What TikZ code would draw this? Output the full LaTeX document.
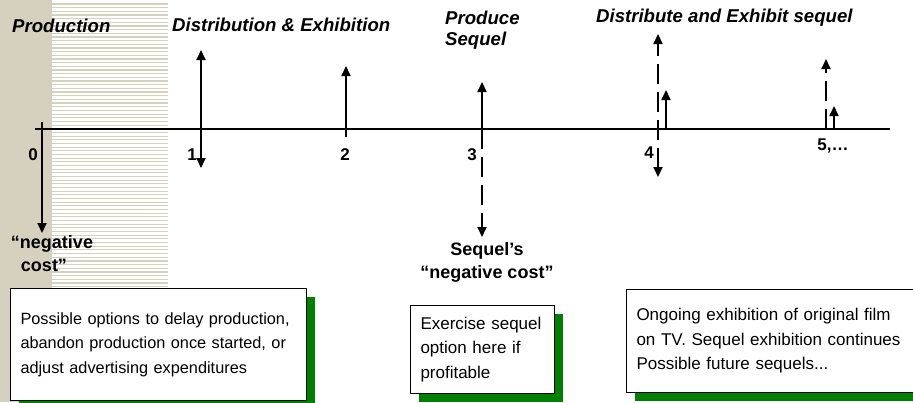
\documentclass[tikz,border=0pt]{standalone}
\usepackage{fontspec}
\setmainfont{Liberation Sans}
\usetikzlibrary{arrows.meta, positioning, shadows}
\definecolor{tBeige}{RGB}{213,209,190}
\definecolor{tGreen}{RGB}{0,128,0}
\tikzstyle{tPhase} = [font=\fontsize{18.6}{21}\selectfont\bfseries\itshape, inner sep=0pt, align=left]
\tikzstyle{tTime} = [font=\fontsize{17}{20}\selectfont\bfseries, inner sep=0pt]
\tikzstyle{tCost} = [font=\fontsize{18}{23}\selectfont\bfseries, inner sep=0pt, align=center]
\tikzstyle{tOption} = [rectangle, draw=black, fill=white, line width=1pt, inner xsep=10pt, inner ysep=0pt, align=left, font=\fontsize{17}{24.5}\selectfont, drop shadow={shadow xshift=8pt, shadow yshift=-8pt, fill=tGreen, opacity=1}]
\tikzstyle{tAxis} = [line width=2pt]
\tikzstyle{tFlow} = [line width=2pt, -{Triangle[width=9pt,length=10pt]}]
\tikzstyle{tFlowBoth} = [line width=2pt, {Triangle[width=9pt,length=10pt]}-{Triangle[width=9pt,length=10pt]}]
\tikzstyle{tDashed} = [dash pattern=on 20pt off 8pt]

\begin{document}
\begin{tikzpicture}[x=1pt, y=-1pt]
    \useasboundingbox (0,0) rectangle (913,402);
    % production period shading
    \fill[tBeige] (0,0) rectangle (52,402);
    \foreach \s in {4,7.67,...,287}
        \draw[tBeige, line width=1.2pt] (52,\s) -- (168,\s);

    % time line
    \coordinate (axisstart) at (35,129);
    \coordinate (axisend) at (890,129);
    \draw [tAxis] (axisstart) -- (axisend);

    \node (production) [tPhase, anchor=base west] at (12,32) {Production};
    \node (distexhibition) [tPhase, anchor=base west] at (172,31) {Distribution \& Exhibition};
    \node (producesequel) [tPhase, anchor=north west] at (445,11) {Produce\\Sequel};
    \node (distsequel) [tPhase, anchor=base west] at (596,22) {Distribute and Exhibit sequel};

    \node (zero) [tTime, anchor=base] at (33,160) {0};
    \node (one) [tTime, anchor=base] at (192,160) {1};
    \node (two) [tTime, anchor=base] at (345,160) {2};
    \node (three) [tTime, anchor=base] at (472,160) {3};
    \node (four) [tTime, anchor=base] at (649,158) {4};
    \node (five) [tTime, anchor=base] at (833,150) {5,\ldots};

    % cash flows
    \coordinate (c0a) at (42,122);   \coordinate (c0b) at (42,233);
    \coordinate (c1a) at (201,168);  \coordinate (c1b) at (201,50);
    \coordinate (c2a) at (346,137);  \coordinate (c2b) at (346,66);
    \coordinate (c3a) at (482,137);  \coordinate (c3b) at (482,82);
    \coordinate (c3c) at (482,129);  \coordinate (c3d) at (482,237);
    \coordinate (c4a) at (658,177);  \coordinate (c4b) at (658,34);
    \coordinate (c4c) at (666,129);  \coordinate (c4d) at (666,90);
    \coordinate (c5a) at (826,129);  \coordinate (c5b) at (826,59);
    \coordinate (c5c) at (834,129);  \coordinate (c5d) at (834,106);

    \draw [tFlow] (c0a) -- (c0b);
    \draw [tFlowBoth] (c1a) -- (c1b);
    \draw [tFlow] (c2a) -- (c2b);
    \draw [tFlow] (c3a) -- (c3b);
    \draw [tFlow, tDashed] (c3c) -- (c3d);
    \draw [tFlowBoth, tDashed] (c4a) -- (c4b);
    \draw [tFlow] (c4c) -- (c4d);
    \draw [tFlow, tDashed] (c5a) -- (c5b);
    \draw [tFlow] (c5c) -- (c5d);

    \node (negcost) [tCost, below=2pt of c0b, xshift=10pt, align=left] {“negative\\\hspace*{10pt}cost”};
    \node (sequelcost) [tCost, below=5pt of c3d, xshift=5pt] {Sequel’s\\“negative cost”};

    % option boxes
    \node (boxproduction) [tOption, anchor=north west, text width=276pt, minimum height=112pt, font=\fontsize{16.3}{24.5}\selectfont] at (10,288) {Possible options to delay production,\\abandon production once started, or\\adjust advertising expenditures};
    \node (boxsequel) [tOption, anchor=north west, text width=124pt, minimum height=88pt] at (410,305) {Exercise sequel\\option here if\\profitable};
    \node (boxongoing) [tOption, anchor=north west, text width=280pt, minimum height=103pt] at (626,289) {Ongoing exhibition of original film\\on TV. Sequel exhibition continues\\Possible future sequels...};
\end{tikzpicture}
\end{document}
